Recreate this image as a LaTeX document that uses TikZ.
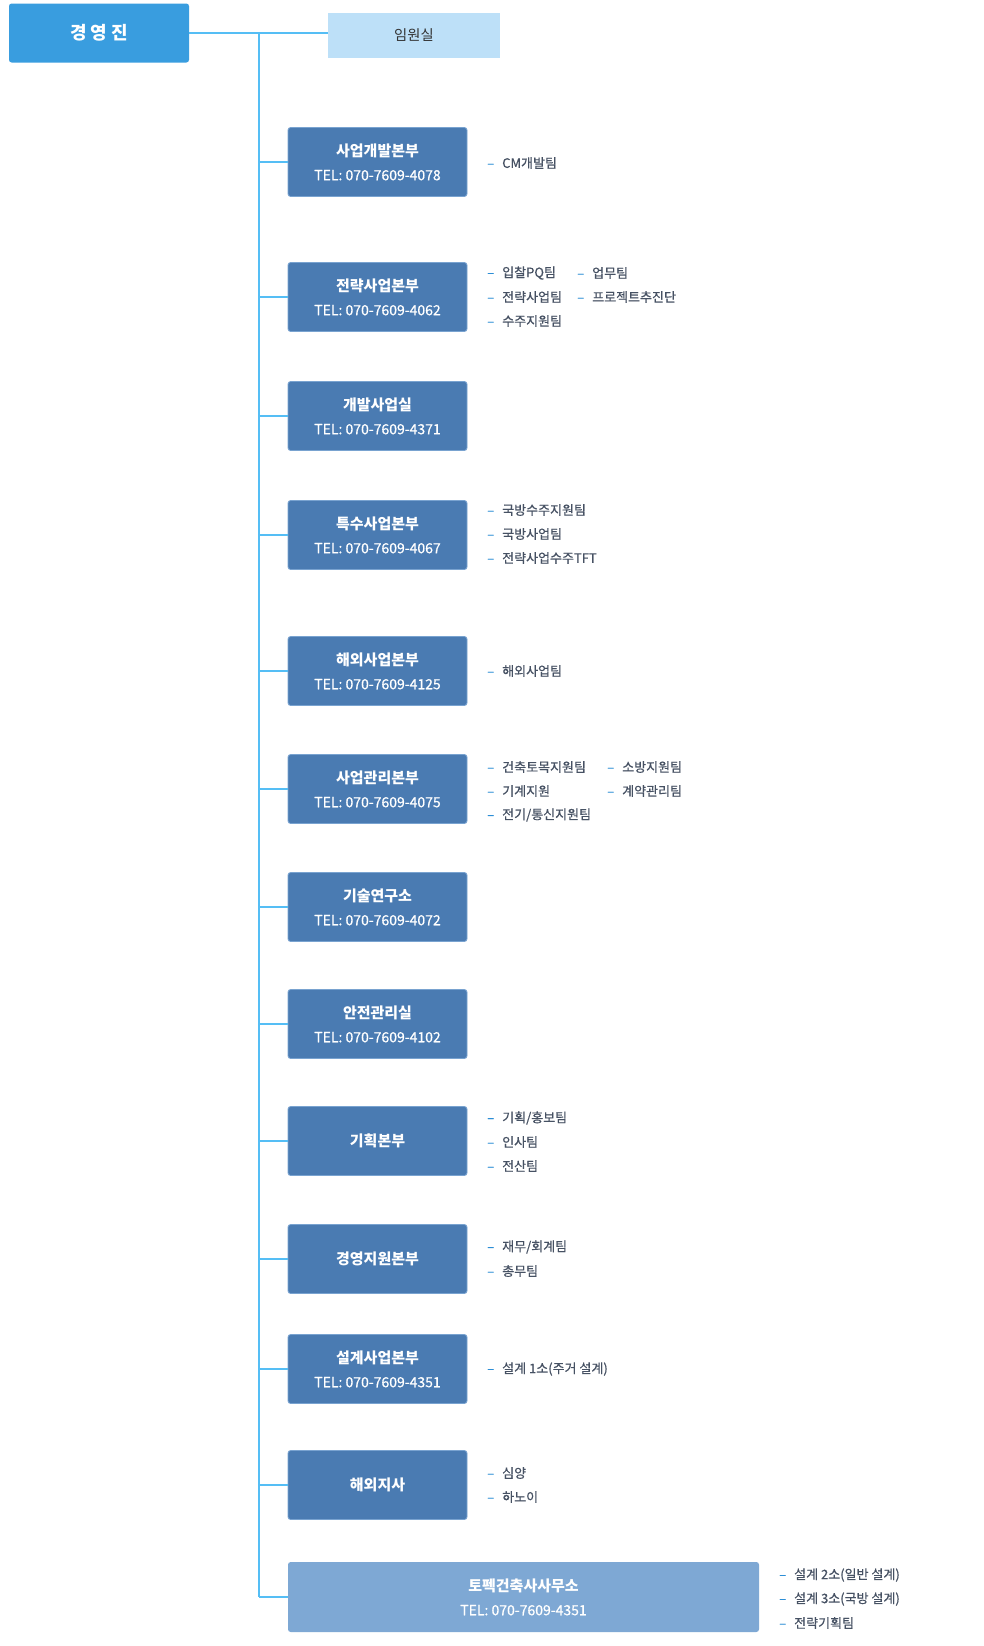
\documentclass[tikz,border=0pt]{standalone}
\usepackage{fontspec}
\setmainfont{Noto Sans CJK KR}
\newfontfamily\midfont[FakeBold=0.6]{Noto Sans CJK KR}
\definecolor{boardBg}{HTML}{399DDF}
\definecolor{officeBg}{HTML}{BDE0F8}
\definecolor{officeText}{HTML}{333333}
\definecolor{deptBg}{HTML}{4A7BB2}
\definecolor{deptBorder}{HTML}{79A3D0}
\definecolor{firmBg}{HTML}{7EA8D4}
\definecolor{lineBlue}{HTML}{55BEF5}
\definecolor{teamText}{HTML}{465163}
\definecolor{dashBlue}{HTML}{2C8ED6}
\tikzset{
boardstyle/.style={rectangle, rounded corners=2pt, fill=boardBg, text=white, minimum width=135pt, minimum height=44.25pt, inner sep=0pt, font=\fontsize{13.5}{16}\selectfont\bfseries},
officestyle/.style={rectangle, fill=officeBg, text=officeText, minimum width=129pt, minimum height=33.75pt, inner sep=0pt, font=\fontsize{10.75}{12}\selectfont},
deptstyle/.style={rectangle, rounded corners=2pt, draw=deptBorder, line width=0.6pt, fill=deptBg, text=white, minimum width=134.25pt, minimum height=51.75pt, inner sep=0pt, align=center, font=\fontsize{11.25}{18}\selectfont},
firmstyle/.style={deptstyle, draw=none, fill=firmBg, minimum width=353.25pt, minimum height=52.5pt},
teamstyle/.style={anchor=west, inner sep=0pt, text=teamText, font=\midfont\fontsize{9.75}{12}\selectfont},
linkstyle/.style={draw=lineBlue, line width=0.8pt},
trunkstyle/.style={draw=lineBlue, line width=1.5pt}
}
\newcommand{\deptTitle}[1]{{\bfseries #1}}
\newcommand{\deptTel}[1]{{\midfont\fontsize{10.5}{18}\selectfont #1}}
% box with title and phone line
\newcommand{\dept}[4]{
  \coordinate (#1j) at (259, #2);
  \node [deptstyle] (#1) at (377.5, #2) {\deptTitle{#3}\\\deptTel{#4}};
  \draw [linkstyle] (#1j) -- (#1);
}
% box with title only
\newcommand{\deptsolo}[3]{
  \coordinate (#1j) at (259, #2);
  \node [deptstyle] (#1) at (377.5, #2) {\deptTitle{#3}};
  \draw [linkstyle] (#1j) -- (#1);
}
% list of teams, one per row
\newcommand{\teams}[4]{
  \foreach \t [count=\i] in {#4}
  {
    \node [teamstyle] (#1\i) at (#2, #3 + \i*24 - 24) {{\color{dashBlue}–}\hspace{6pt}\t};
  }
}

\begin{document}
\begin{tikzpicture}[x=0.75pt, y=-0.75pt]
\useasboundingbox [fill=white] (0,0) rectangle (984,1646);

\node [boardstyle] (board) at (99, 33) {경 영 진};
\node [officestyle] (office) at (414, 35) {임원실};
\draw [linkstyle] (board.east) -- (board.east -| office.west);
\coordinate (trunktop) at (259, 33);

\dept {devhq}{162}{사업개발본부}{TEL: 070-7609-4078}
\dept {strathq}{297}{전략사업본부}{TEL: 070-7609-4062}
\dept {devoffice}{416}{개발사업실}{TEL: 070-7609-4371}
\dept {spechq}{535}{특수사업본부}{TEL: 070-7609-4067}
\dept {abroadhq}{671}{해외사업본부}{TEL: 070-7609-4125}
\dept {mgmthq}{789}{사업관리본부}{TEL: 070-7609-4075}
\dept {lab}{907}{기술연구소}{TEL: 070-7609-4072}
\dept {safety}{1024}{안전관리실}{TEL: 070-7609-4102}
\deptsolo {planhq}{1141}{기획본부}
\deptsolo {supporthq}{1259}{경영지원본부}
\dept {designhq}{1369}{설계사업본부}{TEL: 070-7609-4351}
\deptsolo {branch}{1485}{해외지사}

\coordinate (firmj) at (259, 1597);
\node [firmstyle] (firm) at (523.5, 1597) {\deptTitle{토펙건축사사무소}\\\deptTel{TEL: 070-7609-4351}};
\draw [linkstyle] (firmj) -- (firm);
\draw [trunkstyle] (trunktop) -- (firmj);

\teams {devt}{487}{163}{CM개발팀}
\teams {stra}{487}{273}{입찰PQ팀, 전략사업팀, 수주지원팀}
\teams {strb}{577}{273}{업무팀, 프로젝트추진단}
\teams {spec}{487}{510}{국방수주지원팀, 국방사업팀, 전략사업수주TFT}
\teams {abrt}{487}{671}{해외사업팀}
\teams {mgma}{487}{767}{건축토목지원팀, 기계지원, 전기/통신지원팀}
\teams {mgmb}{607}{767}{소방지원팀, 계약관리팀}
\teams {plan}{487}{1118}{기획/홍보팀, 인사팀, 전산팀}
\teams {supp}{487}{1247}{재무/회계팀, 총무팀}
\teams {desg}{487}{1369}{설계 1소(주거 설계)}
\teams {brch}{487}{1473}{심양, 하노이}
\teams {firt}{779}{1575}{설계 2소(일반 설계), 설계 3소(국방 설계), 전략기획팀}
\end{tikzpicture}
\end{document}
